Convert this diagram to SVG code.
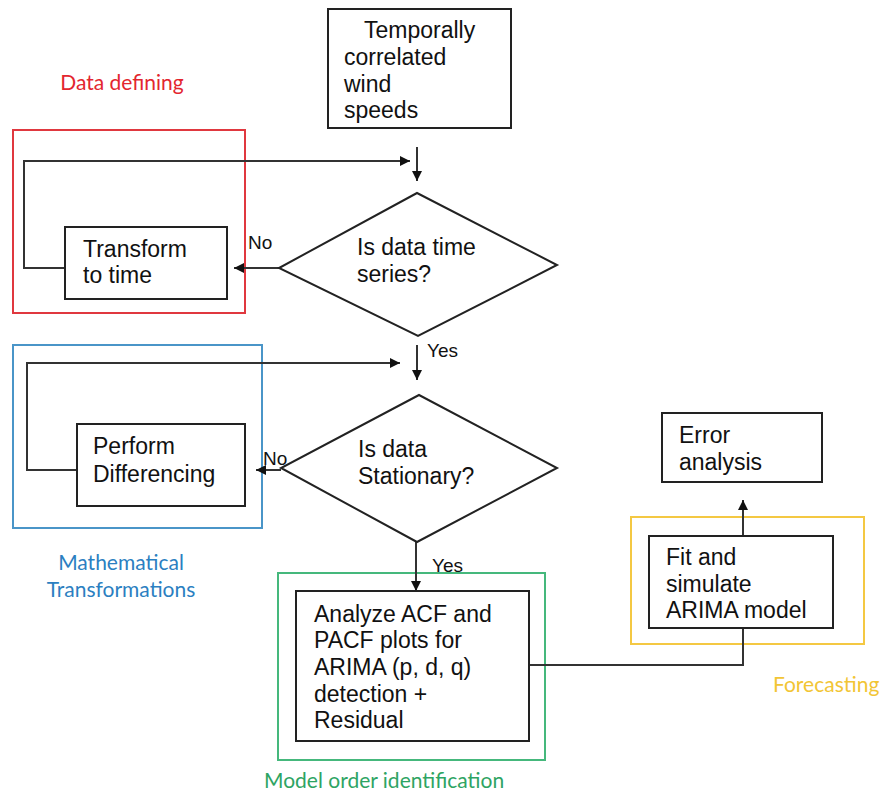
<svg xmlns="http://www.w3.org/2000/svg" width="882" height="794" viewBox="0 0 882 794">
<defs>
<style>
.node{fill:#fff;stroke:#222;stroke-width:2}
.t{font-family:"Liberation Sans",Arial,sans-serif;font-size:23px;fill:#111}
.lbl{font-family:"Liberation Sans",Arial,sans-serif;font-size:19px;fill:#111}
.grp{fill:none;stroke-width:2}
.gl{font-family:Lato,"Open Sans",sans-serif;font-size:21px}
.c{fill:none;stroke:#333;stroke-width:2}
</style>
<marker id="ah" viewBox="0 0 10 10" refX="10" refY="5" markerWidth="10" markerHeight="10" markerUnits="userSpaceOnUse" orient="auto">
<path d="M0,0 L10,5 L0,10 z" fill="#111"/>
</marker>
</defs>
<rect width="882" height="794" fill="#fff"/>

<g id="group-data-defining">
<rect class="grp" x="13" y="130" width="232" height="183" stroke="#e0383f"/>
<text class="gl" x="122" y="90" text-anchor="middle" fill="#e3262f">Data defining</text>
</g>
<g id="group-math">
<rect class="grp" x="13" y="345" width="249" height="183" stroke="#4a95c8"/>
<text class="gl" x="121" y="570" text-anchor="middle" fill="#2b7fc1">Mathematical</text>
<text class="gl" x="121" y="597" text-anchor="middle" fill="#2b7fc1">Transformations</text>
</g>
<g id="group-model">
<rect class="grp" x="278" y="573" width="267" height="187" stroke="#45b87c"/>
<text class="gl" x="264" y="788" fill="#2ea463">Model order identification</text>
</g>
<g id="group-forecast">
<rect class="grp" x="631" y="517" width="233" height="127" stroke="#f4c843"/>
<text class="gl" x="773" y="692" fill="#f2c535">Forecasting</text>
</g>

<g id="connectors">
<path class="c" d="M417,147 V181" marker-end="url(#ah)"/>
<path class="c" d="M65,268 H24 V161 H410" marker-end="url(#ah)"/>
<path class="c" d="M279,268 H234" marker-end="url(#ah)"/>
<text class="lbl" x="248" y="249">No</text>
<path class="c" d="M417,345 V380" marker-end="url(#ah)"/>
<text class="lbl" x="427" y="357">Yes</text>
<path class="c" d="M77,470 H27 V363 H400" marker-end="url(#ah)"/>
<path class="c" d="M281,470 H256" marker-end="url(#ah)"/>
<text class="lbl" x="263" y="465">No</text>
<path class="c" d="M416,542 V591" marker-end="url(#ah)"/>
<text class="lbl" x="432" y="572">Yes</text>
<path class="c" d="M530,665 H743 V613" marker-end="url(#ah)"/>
<path class="c" d="M743,536 V500" marker-end="url(#ah)"/>
</g>

<g id="node-temporally">
<rect class="node" x="328" y="9" width="183" height="119"/>
<text class="t" x="364" y="38">Temporally</text>
<text class="t" x="344" y="65">correlated</text>
<text class="t" x="344" y="92">wind</text>
<text class="t" x="344" y="118">speeds</text>
</g>
<g id="node-is-time-series">
<path class="node" d="M417,193 L557,265 L418,336 L279,268 Z"/>
<text class="t" x="357" y="255">Is data time</text>
<text class="t" x="357" y="282">series?</text>
</g>
<g id="node-transform">
<rect class="node" x="65" y="227" width="162" height="72"/>
<text class="t" x="83" y="257">Transform</text>
<text class="t" x="83" y="283">to time</text>
</g>
<g id="node-is-stationary">
<path class="node" d="M419,395 L557,468 L417,542 L281,468 Z"/>
<text class="t" x="358" y="457">Is data</text>
<text class="t" x="358" y="484">Stationary?</text>
</g>
<g id="node-differencing">
<rect class="node" x="77" y="424" width="168" height="82"/>
<text class="t" x="93" y="454">Perform</text>
<text class="t" x="93" y="482">Differencing</text>
</g>
<g id="node-analyze">
<rect class="node" x="296" y="591" width="233" height="150"/>
<text class="t" x="314" y="622">Analyze ACF and</text>
<text class="t" x="314" y="648">PACF plots for</text>
<text class="t" x="314" y="675">ARIMA (p, d, q)</text>
<text class="t" x="314" y="702">detection +</text>
<text class="t" x="314" y="728">Residual</text>
</g>
<g id="node-fit">
<rect class="node" x="649" y="536" width="184" height="92"/>
<text class="t" x="666" y="565">Fit and</text>
<text class="t" x="666" y="592">simulate</text>
<text class="t" x="666" y="618">ARIMA model</text>
</g>
<g id="node-error">
<rect class="node" x="662" y="413" width="160" height="69"/>
<text class="t" x="679" y="443">Error</text>
<text class="t" x="679" y="470">analysis</text>
</g>
</svg>
